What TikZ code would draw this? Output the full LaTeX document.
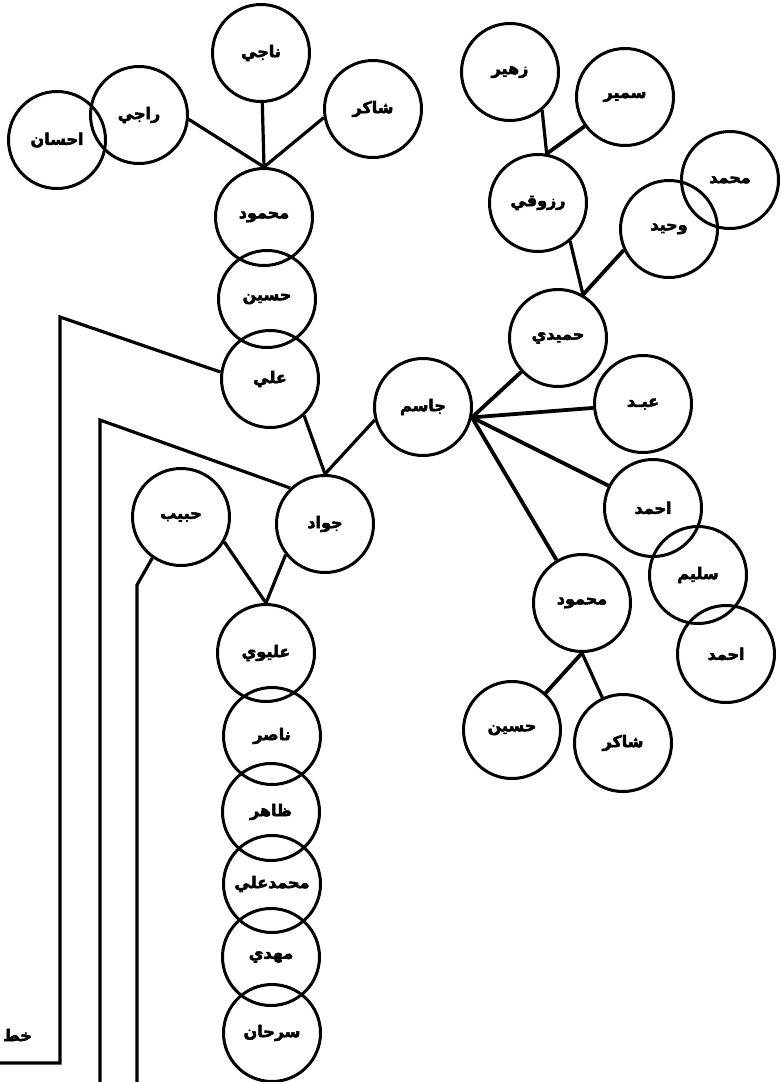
\documentclass[tikz,border=0pt]{standalone}
\usepackage{fontspec}
\newfontfamily\arabicfont[Script=Arabic,BoldFont={DejaVu Sans Bold},BoldFeatures={FakeBold=3}]{DejaVu Sans}
\TeXXeTstate=1
\tikzset{person/.style={circle,draw,line width=3pt,minimum size=97pt,inner sep=0pt,font=\arabicfont\bfseries\fontsize{16}{18}\selectfont}, link/.style={line width=3.2pt,line join=miter}, hub/.style={line width=3.8pt}}
\begin{document}
\begin{tikzpicture}[x=1pt,y=-1pt]
\useasboundingbox (0,0) rectangle (781,1082);
% left family
\foreach \n/\x/\y/\t in {naji/261/53/ناجي,raji/139/115/راجي,ihsan/57/140/احسان,shakir/373/109/شاكر,mahmud/264/217/محمود,husain/267/299/حسين,ali/270/379/علي,jawad/325/524/جواد,habib/181/517/حبيب,alawi/266/653/عليوي,nasir/272/736/ناصر,zahir/271/812/ظاهر,mali/272/884/محمدعلي,mahdi/271/957/مهدي,sarhan/272/1033/سرحان}{\node[person](\n) at (\x,\y){\beginR\t\endR};}
% right family
\foreach \n/\x/\y/\t in {jasim/423/407/جاسم,hamidi/558/338/حميدي,razuqi/538/203/رزوقي,zuhair/510/72/زهير,samir/625/97/سمير,wahid/669/229/وحيد,muhammad/730/180/محمد,abd/643/404/عبـد,ahmad/653/508/احمد,salim/698/575/سليم,ahmadb/726/654/احمد,mahmudb/582/603/محمود,husainb/512/730/حسين,shakirb/623/743/شاكر}{\node[person](\n) at (\x,\y){\beginR\t\endR};}
\foreach \a in {naji,raji.-5,shakir.190}{\draw[link](\a)--(mahmud.north);}
\draw[link](ali.-47)--(jawad.north);\draw[link](jawad.north)--(jasim.195);
\draw[link](jawad.218)--(alawi.north);\draw[link](habib.-30)--(alawi.north);
\foreach \a in {hamidi,abd,ahmad,mahmudb}{\draw[hub](jasim.-12)--(\a);}
\draw[link](zuhair.-50)--(razuqi.80);\draw[hub](samir)--(razuqi.80);
\draw[link](razuqi.-50)--(hamidi.60);\draw[hub](wahid.205)--(hamidi.60);
\draw[hub](mahmudb.south)--(husainb);\draw[link](mahmudb.south)--(shakirb);
% lines running off the page
\coordinate(ca) at (60,317);\coordinate(cb) at (60,1063);\coordinate(cc) at (-5,1063);
\coordinate(da) at (100,420);\coordinate(db) at (100,1090);
\coordinate(ea) at (137,585);\coordinate(eb) at (137,1090);
\draw[link](ali.172)--(ca)--(cb)--(cc);
\draw[link](jawad.134)--(da)--(db);
\draw[link](habib.-125)--(ea)--(eb);
\node[font=\arabicfont\bfseries\fontsize{16}{18}\selectfont,anchor=east,inner sep=0pt](line) at (32,1035){\beginR خط\endR};
\end{tikzpicture}
\end{document}
